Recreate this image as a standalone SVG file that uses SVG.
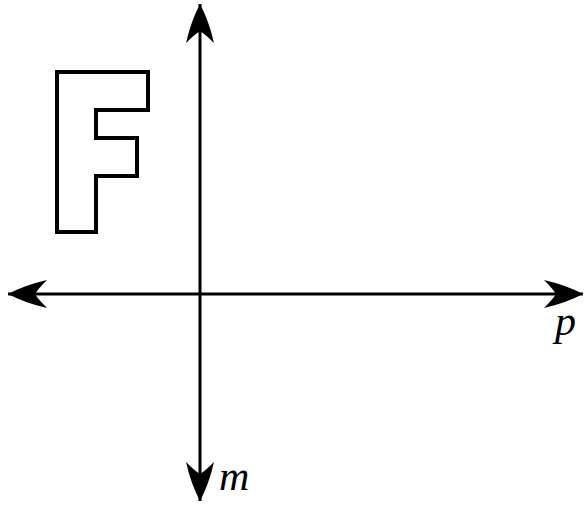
<svg xmlns="http://www.w3.org/2000/svg" width="586" height="505" viewBox="0 0 586 505">
<style>
.axis{stroke:#000;stroke-width:3;fill:none}
.lbl{font-family:"Liberation Serif",serif;font-style:italic;font-size:42px;fill:#000}
</style>
<defs>
<marker id="ah" markerUnits="userSpaceOnUse" markerWidth="44" markerHeight="34" viewBox="-42 -17 44 34" refX="0" refY="0" orient="auto-start-reverse">
<path d="M0,0 Q-17,9 -39,14 Q-30,5 -27,0 Q-30,-5 -39,-14 Q-17,-9 0,0 Z" fill="#000"/>
</marker>
</defs>
<g id="shape-F">
<path d="M57,72 H148 V110 H96 V138 H137 V176 H96 V232 H57 Z" fill="#fff" stroke="#000" stroke-width="4" stroke-linejoin="miter"/>
</g>
<g id="connectors">
<line id="axis-m" class="axis" x1="200" y1="4" x2="200" y2="501" marker-start="url(#ah)" marker-end="url(#ah)"/>
<line id="axis-p" class="axis" x1="8" y1="294" x2="583" y2="294" marker-start="url(#ah)" marker-end="url(#ah)"/>
</g>
<g id="label-p"><text class="lbl" x="555" y="335">p</text></g>
<g id="label-m"><text class="lbl" x="219" y="490">m</text></g>
</svg>
